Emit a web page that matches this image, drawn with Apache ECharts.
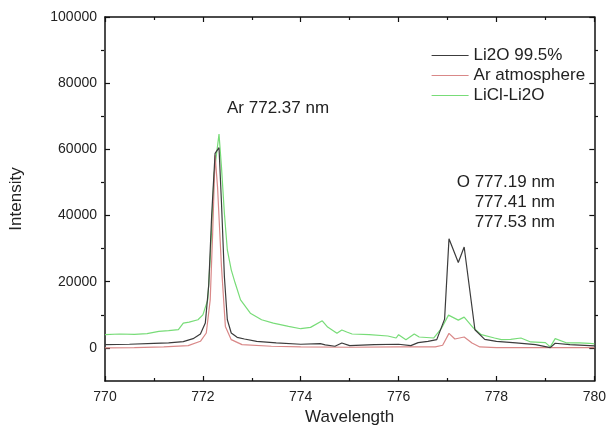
<!DOCTYPE html>
<html>
<head>
<meta charset="utf-8">
<script src="https://cdn.jsdelivr.net/npm/echarts@6/dist/echarts.min.js"></script>
<style>
    html, body { margin: 0; padding: 0; background: #fff; }
    #main { width: 609px; height: 432px; }
</style>
</head>
<body>
<div id="main"></div>
<script type="text/javascript">
    // 读图得到的数据 (wavelength nm / intensity)
    const li2oX = [770, 770.5, 771, 771.3, 771.6, 771.8, 771.95, 772.05, 772.12, 772.18, 772.25, 772.33, 772.38, 772.44, 772.5, 772.58, 772.7, 772.85, 773.1, 773.5, 774.0, 774.4, 774.5, 774.7, 774.84, 775.0, 775.5, 776.0, 776.25, 776.4, 776.6, 776.78, 776.94, 777.03, 777.22, 777.34, 777.56, 777.76, 778.0, 778.4, 778.8, 779.1, 779.2, 779.5, 779.9, 780];
    const li2oY = [1000, 1100, 1400, 1500, 1900, 2800, 4200, 7500, 19000, 40000, 58800, 60500, 44000, 21500, 8500, 4500, 3200, 2700, 2000, 1500, 1100, 1300, 900, 500, 1500, 700, 1000, 1100, 700, 1600, 2000, 2500, 8700, 33000, 25800, 30500, 5500, 2600, 2000, 1500, 1000, 100, 1400, 1000, 700, 600];

    const arX = [770, 770.6, 771.2, 771.7, 771.95, 772.07, 772.15, 772.2, 772.25, 772.3, 772.38, 772.46, 772.58, 772.8, 773.4, 774, 775, 776, 776.75, 776.9, 777.03, 777.15, 777.34, 777.5, 777.66, 778, 779, 780];
    const arY = [0, 100, 300, 700, 2000, 4500, 14500, 34600, 58200, 48600, 24600, 6500, 2500, 1000, 500, 300, 200, 300, 300, 800, 4400, 2700, 3300, 1500, 300, 100, 100, 100];

    const liclX = [770, 770.3, 770.6, 770.86, 771.1, 771.3, 771.5, 771.6, 771.72, 771.9, 772.0, 772.1, 772.16, 772.23, 772.33, 772.38, 772.44, 772.5, 772.58, 772.66, 772.77, 772.97, 773.2, 773.44, 773.75, 774.0, 774.2, 774.44, 774.55, 774.74, 774.84, 774.94, 775.05, 775.4, 775.78, 775.95, 776.0, 776.15, 776.32, 776.42, 776.72, 776.88, 777.02, 777.22, 777.34, 777.53, 777.69, 777.96, 778.1, 778.29, 778.5, 778.7, 779.0, 779.1, 779.2, 779.44, 779.7, 779.9, 780];
    const liclY = [4000, 4200, 4100, 4300, 5000, 5200, 5500, 7500, 7800, 8500, 10000, 14500, 29600, 52700, 64600, 54700, 40600, 29600, 23600, 19600, 14500, 10500, 8500, 7500, 6500, 5800, 6200, 8200, 6300, 4400, 5400, 4800, 4200, 4000, 3600, 3000, 4000, 2500, 4200, 3300, 3000, 6000, 9900, 8400, 9300, 6000, 4000, 3000, 2500, 2600, 3000, 1800, 1600, 300, 2800, 1500, 1500, 1400, 1200];

    const seriesNames = ['Li2O 99.5%', 'Ar atmosphere', 'LiCl-Li2O'];
    const seriesColors = ['#3c3c3c', '#d98888', '#78dc78'];
    const yTicks = [0, 20000, 40000, 60000, 80000, 100000];
    const yMinorTicks = [10000, 30000, 50000, 70000, 90000];

    function zip(xs, ys) {
        let out = [];
        for (let i = 0; i < xs.length; i++) {
            out.push([xs[i], ys[i]]);
        }
        return out;
    }

    const FONT = '"Liberation Sans", Arial, sans-serif';
    const GRID = {left: 101, right: 11, top: 17, bottom: 51, containLabel: false};

    function lineCfg(show) {
        return {show: show, onZero: false, lineStyle: {color: '#111', width: 1.5}};
    }

    // x 轴: 下方带标签, 上方只画刻度
    function xAxisCfg(pos, withLabel, gridIndex, visible) {
        return {
            type: 'value',
            gridIndex: gridIndex,
            show: visible,
            position: pos,
            min: 770,
            max: 780,
            interval: 2,
            name: withLabel ? 'Wavelength' : '',
            nameLocation: 'middle',
            nameGap: 26,
            nameTextStyle: {fontFamily: FONT, fontSize: 17, color: '#222'},
            axisLine: lineCfg(true),
            axisTick: {show: true, inside: true, length: 5, lineStyle: {color: '#111', width: 1.2}},
            minorTick: {show: true, splitNumber: 2, length: 3, lineStyle: {color: '#111', width: 1.2}},
            axisLabel: {show: withLabel, fontFamily: FONT, fontSize: 14, color: '#222', margin: 9},
            splitLine: {show: false},
            minorSplitLine: {show: false}
        };
    }

    // y 轴: 主刻度在 grid 0, 次刻度在重叠的 grid 1
    function yAxisCfg(pos, ticks, len, withLabel, gridIndex) {
        return {
            type: 'value',
            gridIndex: gridIndex,
            position: pos,
            min: -10000,
            max: 100000,
            name: withLabel ? 'Intensity' : '',
            nameLocation: 'middle',
            nameGap: 80,
            nameTextStyle: {fontFamily: FONT, fontSize: 17, color: '#222'},
            axisLine: lineCfg(gridIndex === 0),
            axisTick: {show: true, inside: true, length: len, customValues: ticks, lineStyle: {color: '#111', width: 1.2}},
            axisLabel: {
                show: withLabel, customValues: ticks, fontFamily: FONT, fontSize: 14, color: '#222', margin: 8,
                formatter: function (v) { return String(v); }
            },
            splitLine: {show: false}
        };
    }

    let legendData = [];
    for (let i = 0; i < seriesNames.length; i++) {
        legendData.push({name: seriesNames[i], lineStyle: {color: seriesColors[i], width: 1.2}});
    }

    let myChart = echarts.init(document.getElementById('main'));

    let option = {
        animation: false,
        backgroundColor: '#fff',
        grid: [GRID, GRID],
        legend: {
            orient: 'vertical',
            left: 426,
            top: 42,
            itemWidth: 37,
            itemHeight: 10,
            itemGap: 3,
            itemStyle: {opacity: 0},
            textStyle: {fontFamily: FONT, fontSize: 17, color: '#222', lineHeight: 17},
            data: legendData
        },
        xAxis: [
            xAxisCfg('bottom', true, 0, true),
            xAxisCfg('top', false, 0, true),
            xAxisCfg('bottom', false, 1, false)
        ],
        yAxis: [
            yAxisCfg('left', yTicks, 5, true, 0),
            yAxisCfg('right', yTicks, 5, false, 0),
            yAxisCfg('left', yMinorTicks, 3, false, 1),
            yAxisCfg('right', yMinorTicks, 3, false, 1)
        ],
        graphic: [
            {type: 'text', left: 227, top: 100, style: {text: 'Ar 772.37 nm', font: '17px ' + FONT, fill: '#222'}},
            {type: 'text', right: 54, top: 174, style: {text: 'O 777.19 nm', font: '17px ' + FONT, fill: '#222', align: 'right'}},
            {type: 'text', right: 54, top: 194, style: {text: '777.41 nm', font: '17px ' + FONT, fill: '#222', align: 'right'}},
            {type: 'text', right: 54, top: 214, style: {text: '777.53 nm', font: '17px ' + FONT, fill: '#222', align: 'right'}}
        ],
        series: [
            {
                name: seriesNames[0], type: 'line', symbol: 'none', z: 4,
                lineStyle: {color: seriesColors[0], width: 1.2}, itemStyle: {color: seriesColors[0]},
                data: zip(li2oX, li2oY)
            },
            {
                name: seriesNames[1], type: 'line', symbol: 'none', z: 3,
                lineStyle: {color: seriesColors[1], width: 1.2}, itemStyle: {color: seriesColors[1]},
                data: zip(arX, arY)
            },
            {
                name: seriesNames[2], type: 'line', symbol: 'none', z: 2,
                lineStyle: {color: seriesColors[2], width: 1.2}, itemStyle: {color: seriesColors[2]},
                data: zip(liclX, liclY)
            },
            // 占位系列, 让 grid 1 的次刻度轴得以绘制
            {
                type: 'line', xAxisIndex: 2, yAxisIndex: 2, symbol: 'none', silent: true,
                lineStyle: {opacity: 0}, data: []
            },
            {
                type: 'line', xAxisIndex: 2, yAxisIndex: 3, symbol: 'none', silent: true,
                lineStyle: {opacity: 0}, data: []
            }
        ]
    };
    myChart.setOption(option);
</script>
</body>
</html>
